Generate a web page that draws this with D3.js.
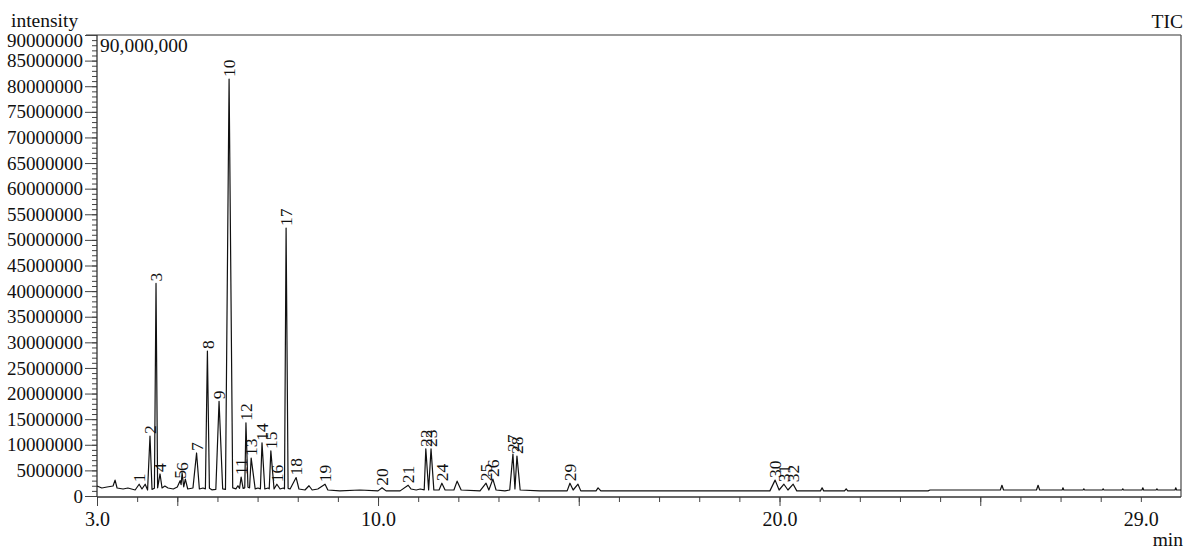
<!DOCTYPE html>
<html>
<head>
<meta charset="utf-8">
<script src="https://cdn.jsdelivr.net/npm/d3@7"></script>
<style>
  body { margin: 0; background: #fff; }
  svg { display: block; font-family: "Liberation Serif", "DejaVu Serif", serif; }
</style>
</head>
<body>
<svg id="chart" width="1185" height="549"></svg>
<script>
// labelled peaks: retention time (min) and apex intensity (millions of counts)
const peakLabels = ["1","2","3","4","5","6","7","8","9","10","11","12","13","14","15","16",
  "17","18","19","20","21","22","23","24","25","26","27","28","29","30","31","32"];
const peakTimes = [4.05, 4.32, 4.47, 4.57, 5.07, 5.12, 5.48, 5.75, 6.04, 6.29, 6.59, 6.71, 6.84, 7.11, 7.33, 7.48,
  7.71, 7.96, 8.68, 10.1, 10.75, 11.19, 11.32, 11.59, 12.69, 12.86, 13.36, 13.46, 14.78, 19.89, 20.11, 20.34];
const peakHeights = [2.3, 11.7, 41.5, 4.3, 3.0, 4.5, 8.4, 28.3, 18.5, 81.4, 3.7, 14.3, 7.4, 10.4, 8.8, 2.3,
  52.3, 3.6, 2.3, 1.6, 2.1, 9.2, 9.2, 2.5, 2.5, 3.3, 8.2, 7.8, 2.5, 3.1, 2.3, 2.3];

// baseline trace between peaks (min, millions)
const baseTimes = [3.00, 3.12, 3.25, 3.40, 3.45, 3.50, 3.65, 3.77, 3.95, 4.12, 4.20, 4.26, 4.37, 4.43, 4.51,
  4.62, 4.69, 4.77, 4.90, 5.00, 5.095, 5.16, 5.20, 5.26, 5.39, 5.55, 5.64, 5.70, 5.80, 5.86, 5.96,
  6.13, 6.20, 6.38, 6.46, 6.51, 6.55, 6.64, 6.68, 6.76, 6.80, 6.94, 7.01, 7.07, 7.18, 7.26, 7.29,
  7.41, 7.56, 7.64, 7.67, 7.76, 7.81, 8.03, 8.18, 8.28, 8.36, 8.50, 8.75, 9.05, 9.55, 10.0, 10.2,
  10.55, 10.82, 10.95, 11.05, 11.15, 11.26, 11.39, 11.52, 11.67, 11.89, 11.97, 12.07, 12.54, 12.76,
  12.94, 13.16, 13.28, 13.41, 13.54, 14.03, 14.71, 14.86, 14.98, 15.05, 15.43, 15.48, 15.55, 18.0,
  19.76, 19.99, 20.21, 20.43, 21.02, 21.06, 21.10, 21.62, 21.66, 21.70, 23.70, 23.75, 25.50, 25.54,
  25.58, 26.40, 26.44, 26.48, 27.04, 27.06, 27.08, 27.56, 27.58, 27.60, 28.04, 28.06, 28.08, 28.53,
  28.55, 28.57, 29.03, 29.05, 29.07, 29.38, 29.40, 29.42, 29.85, 29.87, 29.89, 30.0];
const baseLevels = [1.95, 1.56, 1.76, 1.95, 3.1, 1.56, 1.37, 1.56, 1.17, 1.37, 2.3, 1.17, 1.3, 1.5, 1.6,
  1.56, 1.95, 1.56, 1.37, 1.76, 2.2, 1.8, 3.3, 1.37, 1.56, 1.37, 1.56, 1.4, 1.5, 1.2, 1.3,
  1.4, 1.3, 1.6, 1.4, 2.0, 1.5, 1.5, 1.6, 1.7, 1.6, 1.4, 1.56, 1.4, 1.37, 1.56, 1.4,
  1.37, 1.37, 1.56, 1.4, 1.5, 1.37, 1.37, 1.17, 2.0, 1.17, 1.37, 1.17, 1.0, 1.17, 1.0, 1.0,
  1.0, 1.37, 1.17, 1.37, 1.2, 1.17, 1.17, 1.17, 1.17, 1.17, 2.9, 1.17, 1.0, 1.17,
  1.17, 1.0, 1.17, 1.37, 1.17, 1.0, 1.0, 1.17, 2.3, 1.0, 1.0, 1.6, 1.0, 1.0,
  1.0, 1.17, 1.17, 1.0, 1.0, 1.6, 1.0, 1.0, 1.4, 1.0, 1.0, 1.17, 1.17, 2.1,
  1.17, 1.17, 2.1, 1.17, 1.17, 1.6, 1.17, 1.17, 1.4, 1.17, 1.17, 1.4, 1.17, 1.17,
  1.4, 1.17, 1.17, 1.6, 1.17, 1.17, 1.4, 1.17, 1.17, 1.6, 1.17, 1.17];

const yTickValues = d3.range(0, 90000001, 5000000);
const xLabelValues = [3, 10, 20, 29];

const svg = d3.select("#chart");
const margin = { left: 97, right: 1181, top: 35, bottom: 497 };

const x = d3.scaleLinear().domain([3, 30]).range([margin.left, margin.right]);
const y = d3.scaleLinear().domain([0, 90000000]).range([496, margin.top]);

// merge peaks and baseline into one time-ordered trace
const trace = baseTimes.map((t, i) => [t, baseLevels[i] * 1e6])
  .concat(peakTimes.map((t, i) => [t, peakHeights[i] * 1e6]))
  .sort((a, b) => a[0] - b[0]);

// frame
svg.append("line")
  .attr("x1", 86).attr("x2", margin.right)
  .attr("y1", margin.top).attr("y2", margin.top)
  .attr("stroke", "#777").attr("stroke-width", 1.3);
svg.append("line")
  .attr("x1", margin.right).attr("x2", margin.right)
  .attr("y1", margin.top).attr("y2", margin.bottom)
  .attr("stroke", "#555").attr("stroke-width", 1.3);

// y axis: minor then major ticks
svg.append("g")
  .attr("transform", `translate(${margin.left},0)`)
  .call(d3.axisLeft(y).tickValues(d3.range(0, 90000001, 1000000)).tickSize(5).tickFormat(""))
  .call(g => g.select(".domain").remove())
  .call(g => g.selectAll("line").attr("stroke", "#444"));

const yAxis = svg.append("g")
  .attr("transform", `translate(${margin.left},0)`)
  .call(d3.axisLeft(y).tickValues(yTickValues).tickSize(12).tickPadding(2).tickFormat(d3.format("d")))
  .call(g => g.select(".domain").remove());
yAxis.selectAll("line").attr("stroke", "#444");
yAxis.selectAll("text")
  .attr("font-family", "Liberation Serif").attr("font-size", 19).attr("fill", "#111");
yAxis.selectAll(".tick").filter(d => d === 90000000).select("text").attr("dy", "0.58em");

svg.append("line")
  .attr("x1", margin.left).attr("x2", margin.left)
  .attr("y1", margin.top).attr("y2", margin.bottom)
  .attr("stroke", "#333").attr("stroke-width", 1.3);

// x axis: minute ticks, longer every 5 min
svg.append("g")
  .attr("transform", `translate(0,${margin.bottom})`)
  .call(d3.axisBottom(x).tickValues(d3.range(3, 30)).tickSize(5).tickFormat(""))
  .call(g => g.select(".domain").remove())
  .call(g => g.selectAll("line").attr("stroke", "#444"));
svg.append("g")
  .attr("transform", `translate(0,${margin.bottom})`)
  .call(d3.axisBottom(x).tickValues([3, 5, 10, 15, 20, 25]).tickSize(9).tickFormat(""))
  .call(g => g.select(".domain").remove())
  .call(g => g.selectAll("line").attr("stroke", "#444"));

const xAxis = svg.append("g")
  .attr("transform", `translate(0,${margin.bottom})`)
  .call(d3.axisBottom(x).tickValues(xLabelValues).tickSize(0).tickPadding(15).tickFormat(d3.format(".1f")))
  .call(g => g.select(".domain").remove());
xAxis.selectAll("text")
  .attr("font-family", "Liberation Serif").attr("font-size", 20).attr("fill", "#111");

svg.append("line")
  .attr("x1", margin.left).attr("x2", margin.right)
  .attr("y1", margin.bottom).attr("y2", margin.bottom)
  .attr("stroke", "#333").attr("stroke-width", 1.3);

// chromatogram trace
const line = d3.line()
  .x(d => x(d[0]))
  .y(d => y(d[1]));

svg.append("path")
  .datum(trace)
  .attr("fill", "none")
  .attr("stroke", "#111")
  .attr("stroke-width", 1.2)
  .attr("stroke-linejoin", "round")
  .attr("d", line);

// peak numbers, rotated
svg.append("g")
  .attr("font-family", "Liberation Serif")
  .attr("font-size", 17.5)
  .attr("fill", "#111")
  .selectAll("text")
  .data(peakLabels)
  .join("text")
  .attr("transform", (d, i) => `translate(${x(peakTimes[i])},${y(peakHeights[i] * 1e6) - 2}) rotate(-90)`)
  .attr("dy", "0.35em")
  .text(d => d);

// titles
const txt = (tx, ty, s, anchor) => svg.append("text")
  .attr("x", tx).attr("y", ty)
  .attr("text-anchor", anchor)
  .attr("font-size", 19.5)
  .attr("fill", "#111")
  .text(s);

txt(11, 27, "intensity", "start");
txt(1183, 28, "TIC", "end");
txt(100, 52, "90,000,000", "start");
txt(1183, 546, "min", "end");
</script>
</body>
</html>
